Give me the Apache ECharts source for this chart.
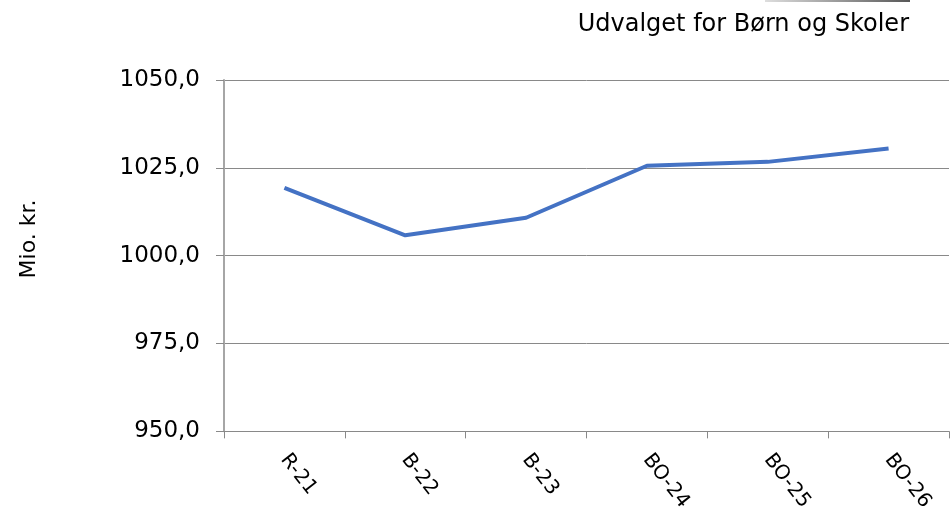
<!DOCTYPE html>
<html>
<head>
<meta charset="utf-8">
<script src="https://cdn.jsdelivr.net/npm/echarts@6/dist/echarts.min.js"></script>
<style>
  html, body { margin: 0; padding: 0; background: #fff; }
  #chart { width: 951px; height: 514px; }
</style>
</head>
<body>
<div id="chart"></div>
<script>
  const categories = ['R-21', 'B-22', 'B-23', 'BO-24', 'BO-25', 'BO-26'];
  const values = [1019.3, 1005.8, 1010.8, 1025.6, 1026.7, 1030.5];
  const yMin = 950;
  const yMax = 1050;
  const yStep = 25;

  const font = '"DejaVu Sans", Verdana, sans-serif';
  const chart = echarts.init(document.getElementById('chart'));

  chart.setOption({
    animation: false,
    backgroundColor: '#fff',
    title: {
      text: 'Udvalget for Børn og Skoler',
      right: 37,
      top: 8,
      textStyle: { fontFamily: font, fontSize: 24, fontWeight: 'normal', color: '#000' }
    },
    graphic: [{
      type: 'line',
      shape: { x1: 765, y1: 1, x2: 910, y2: 1 },
      style: {
        lineWidth: 2,
        stroke: {
          type: 'linear', x: 0, y: 0, x2: 1, y2: 0,
          colorStops: [{ offset: 0, color: '#e0e0e0' }, { offset: 1, color: '#555' }]
        }
      }
    }, {
      // y axis title, placed like the original (a bit above the axis middle)
      type: 'text',
      x: 29,
      y: 239,
      rotation: Math.PI / 2,
      style: {
        text: 'Mio. kr.',
        fontFamily: font,
        fontSize: 22,
        fill: '#000',
        align: 'center',
        verticalAlign: 'middle'
      }
    }],
    grid: { left: 224, right: 2, top: 80, bottom: 81 },
    xAxis: {
      type: 'category',
      data: categories,
      boundaryGap: true,
      axisLine: { lineStyle: { color: '#898989', width: 1 } },
      axisTick: { show: true, length: 7, lineStyle: { color: '#898989' } },
      axisLabel: {
        rotate: -52,
        margin: 25,
        fontFamily: font,
        fontSize: 20,
        color: '#000'
      }
    },
    yAxis: {
      type: 'value',
      min: yMin,
      max: yMax,
      interval: yStep,
      axisLine: { show: true, lineStyle: { color: '#a6a6a6', width: 2 } },
      axisTick: { show: true, length: 8, lineStyle: { color: '#898989' } },
      splitLine: { lineStyle: { color: '#898989', width: 1 } },
      axisLabel: {
        margin: 24,
        fontFamily: font,
        fontSize: 23,
        color: '#000',
        formatter: v => v.toFixed(1).replace('.', ',')
      }
    },
    series: [{
      type: 'line',
      data: values,
      symbol: 'none',
      lineStyle: { color: '#4472C4', width: 4 },
      itemStyle: { color: '#4472C4' }
    }]
  });
</script>
</body>
</html>
